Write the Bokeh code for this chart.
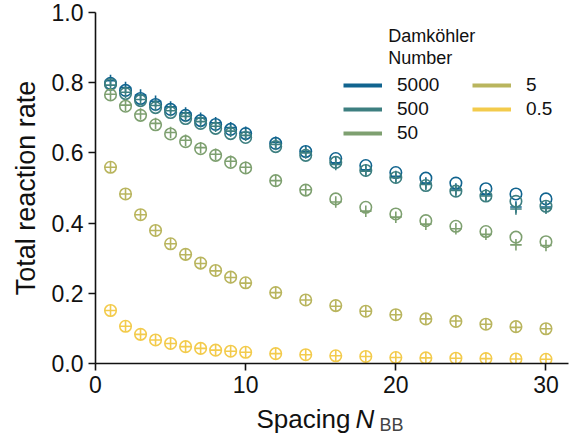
from bokeh.plotting import figure
from bokeh.layouts import column
from bokeh.models import (Range1d, FixedTicker, PrintfTickFormatter, Legend,
                          LegendItem, ColumnDataSource)
from bokeh.core.properties import value
from bokeh.embed import file_html
from bokeh.resources import INLINE

spacing = [1, 2, 3, 4, 5, 6, 7, 8, 9, 10, 12, 14, 16, 18, 20, 22, 24, 26, 28, 30]
da_labels = ["5000", "500", "50", "5", "0.5"]
colors = ["#11648f", "#3d7f80", "#7ea070", "#b9b55e", "#f3cb4c"]

circ_5000 = [0.798, 0.778, 0.755, 0.738, 0.724, 0.707, 0.692, 0.681, 0.667, 0.655,
             0.627, 0.604, 0.584, 0.564, 0.544, 0.528, 0.514, 0.498, 0.483, 0.469]
plus_5000 = [0.806, 0.786, 0.765, 0.747, 0.731, 0.714, 0.699, 0.686, 0.672, 0.659,
             0.630, 0.604, 0.572, 0.552, 0.533, 0.514, 0.497, 0.481, 0.446, 0.446]
circ_500 = [0.795, 0.769, 0.749, 0.729, 0.715, 0.698, 0.684, 0.670, 0.655, 0.644,
            0.618, 0.593, 0.573, 0.550, 0.530, 0.507, 0.491, 0.477, 0.462, 0.448]
plus_500 = [0.793, 0.773, 0.752, 0.735, 0.720, 0.704, 0.689, 0.676, 0.662, 0.650,
            0.624, 0.600, 0.567, 0.548, 0.529, 0.510, 0.493, 0.477, 0.440, 0.442]
circ_50 = [0.765, 0.733, 0.707, 0.680, 0.654, 0.632, 0.612, 0.593, 0.573, 0.557,
           0.521, 0.494, 0.469, 0.445, 0.426, 0.407, 0.391, 0.376, 0.360, 0.347]
plus_50 = [0.767, 0.736, 0.711, 0.684, 0.658, 0.636, 0.615, 0.596, 0.576, 0.559,
           0.521, 0.495, 0.460, 0.434, 0.417, 0.397, 0.384, 0.368, 0.338, 0.336]
circ_5 = [0.559, 0.483, 0.424, 0.379, 0.341, 0.311, 0.286, 0.265, 0.246, 0.230,
          0.202, 0.181, 0.165, 0.149, 0.139, 0.127, 0.120, 0.112, 0.105, 0.099]
plus_5 = [0.559, 0.483, 0.424, 0.379, 0.341, 0.310, 0.285, 0.264, 0.245, 0.229,
          0.202, 0.181, 0.163, 0.149, 0.139, 0.127, 0.121, 0.112, 0.103, 0.099]
circ_05 = [0.151, 0.106, 0.083, 0.067, 0.057, 0.048, 0.043, 0.038, 0.035, 0.032,
           0.028, 0.025, 0.022, 0.020, 0.017, 0.016, 0.015, 0.014, 0.013, 0.012]
plus_05 = [0.151, 0.106, 0.083, 0.067, 0.057, 0.048, 0.043, 0.038, 0.035, 0.032,
           0.028, 0.025, 0.022, 0.020, 0.017, 0.016, 0.015, 0.014, 0.013, 0.012]

circles = [circ_5000, circ_500, circ_50, circ_5, circ_05]
pluses = [plus_5000, plus_500, plus_50, plus_5, plus_05]

y_ticks = [0.0, 0.2, 0.4, 0.6, 0.8, 1.0]
x_ticks = [0, 10, 20, 30]

FONT = "Liberation Sans"
INK = "#111111"
NAN = float("nan")

p = figure(width=587, height=400, output_backend="svg", toolbar_location=None,
           x_range=Range1d(0, 31.5), y_range=Range1d(0, 1.0),
           min_border_left=95, min_border_right=19, min_border_top=12,
           min_border_bottom=37)
p.outline_line_color = None
p.grid.visible = False

for ax in (p.xaxis[0], p.yaxis[0]):
    ax.axis_line_width = 1.6
    ax.axis_line_color = INK
    ax.major_tick_line_width = 1.6
    ax.major_tick_line_color = INK
    ax.major_tick_out = 7
    ax.major_tick_in = 0
    ax.minor_tick_out = 0
    ax.minor_tick_in = 0
    ax.major_label_text_font = FONT
    ax.major_label_text_font_size = "23px"
    ax.major_label_text_color = INK
    ax.major_label_standoff = 5

p.xaxis.ticker = FixedTicker(ticks=x_ticks)
p.yaxis.ticker = FixedTicker(ticks=y_ticks)
p.yaxis.formatter = PrintfTickFormatter(format="%.1f")
p.xaxis.formatter = PrintfTickFormatter(format="%d")

p.yaxis.axis_label = "Total reaction rate"
p.yaxis.axis_label_text_font = FONT
p.yaxis.axis_label_text_font_size = "27px"
p.yaxis.axis_label_text_font_style = "normal"
p.yaxis.axis_label_text_color = INK
p.yaxis.axis_label_standoff = 8

for c, circ, plus in zip(colors, circles, pluses):
    src = ColumnDataSource(dict(x=spacing, c=circ, p=plus))
    p.scatter("x", "c", source=src, marker="circle", size=11.5, fill_color=None,
              line_color=c, line_width=1.6)
    p.scatter("x", "p", source=src, marker="cross", size=11.5,
              line_color=c, line_width=1.6)

items = []
for lab, c in zip(da_labels, colors):
    r = p.line(x=[NAN, NAN], y=[NAN, NAN], line_color=c, line_width=4)
    items.append(LegendItem(label=lab, renderers=[r]))

legend = Legend(items=items, location=(248, 219), orientation="vertical", nrows=3,
                glyph_width=39, glyph_height=20, label_height=20, label_standoff=15,
                label_width=73, spacing=2, padding=0, margin=0,
                border_line_color=None, background_fill_alpha=0,
                label_text_font=FONT, label_text_font_size="19px",
                label_text_color=INK)
p.add_layout(legend)

# legend title (two lines)
p.text(x=[19.5, 19.5], y=[0.932, 0.869], text=["Damköhler", "Number"],
       text_font=value(FONT), text_font_size="18px", text_color=INK,
       text_align="left", text_baseline="alphabetic")

# x-axis title strip below the plot; data coordinates equal page pixels
q = figure(width=587, height=39, output_backend="svg", toolbar_location=None,
           x_range=Range1d(95, 568), y_range=Range1d(439, 400),
           x_axis_type=None, y_axis_type=None,
           min_border_left=95, min_border_right=19, min_border_top=0,
           min_border_bottom=0)
q.outline_line_color = None
q.grid.visible = False
q.text(x=[256], y=[418], text=["Spacing"], text_font=value(FONT),
       text_font_size="26px", text_color=INK, text_align="left",
       text_baseline="alphabetic")
q.text(x=[355], y=[418], text=["N"], text_font=value(FONT),
       text_font_size="26px", text_font_style=value("italic"), text_color=INK,
       text_align="left", text_baseline="alphabetic")
q.text(x=[379], y=[424], text=["BB"], text_font=value(FONT),
       text_font_size="18px", text_color="#444444", text_align="left",
       text_baseline="alphabetic")

layout = column(p, q, spacing=0)
open("out.html", "w").write(file_html(layout, INLINE))
